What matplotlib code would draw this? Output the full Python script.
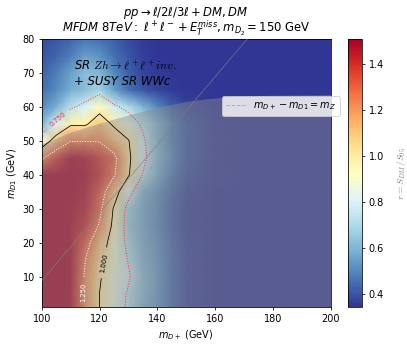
import numpy as np
import matplotlib
matplotlib.use("Agg")
import matplotlib.pyplot as plt
from matplotlib.lines import Line2D

# scan grid: m_D+ (x) and m_D1 (y), in GeV
m_dplus = [100, 105, 110, 115, 120, 125, 130, 135, 140, 145, 150, 160, 170, 180, 190, 200]
m_d1 = [1, 5, 10, 15, 20, 25, 30, 35, 40, 45, 50, 55, 60, 65, 70, 75, 80]

# r = S_DM / S_95, one row per m_D1 value
r_rows = [
    [1.51, 1.51, 1.50, 1.22, 0.999, 0.85, 0.72, 0.60, 0.53, 0.44, 0.37, 0.34, 0.34, 0.34, 0.34, 0.34],
    [1.51, 1.51, 1.50, 1.22, 0.999, 0.86, 0.73, 0.61, 0.53, 0.44, 0.37, 0.34, 0.34, 0.34, 0.34, 0.34],
    [1.51, 1.51, 1.50, 1.23, 1.02, 0.87, 0.77, 0.62, 0.54, 0.44, 0.37, 0.34, 0.34, 0.34, 0.34, 0.34],
    [1.51, 1.51, 1.50, 1.255, 1.06, 0.88, 0.74, 0.60, 0.53, 0.44, 0.37, 0.34, 0.34, 0.34, 0.34, 0.34],
    [1.51, 1.51, 1.50, 1.32, 1.12, 0.90, 0.70, 0.58, 0.52, 0.43, 0.37, 0.34, 0.34, 0.34, 0.34, 0.34],
    [1.51, 1.51, 1.50, 1.42, 1.23, 0.95, 0.66, 0.57, 0.50, 0.42, 0.36, 0.34, 0.34, 0.34, 0.34, 0.34],
    [1.51, 1.51, 1.50, 1.46, 1.30, 0.98, 0.68, 0.57, 0.50, 0.42, 0.36, 0.34, 0.34, 0.34, 0.34, 0.34],
    [1.51, 1.51, 1.51, 1.48, 1.35, 1.10, 0.82, 0.60, 0.52, 0.43, 0.37, 0.34, 0.34, 0.34, 0.34, 0.34],
    [1.51, 1.51, 1.51, 1.50, 1.42, 1.27, 1.02, 0.74, 0.58, 0.47, 0.39, 0.35, 0.34, 0.34, 0.34, 0.34],
    [1.22, 1.38, 1.50, 1.48, 1.40, 1.30, 1.04, 0.80, 0.62, 0.50, 0.40, 0.35, 0.34, 0.34, 0.34, 0.34],
    [0.85, 1.10, 1.24, 1.24, 1.24, 1.12, 1.01, 0.78, 0.60, 0.48, 0.40, 0.35, 0.34, 0.34, 0.34, 0.34],
    [0.60, 0.79, 0.97, 0.97, 1.10, 0.97, 0.85, 0.72, 0.60, 0.48, 0.40, 0.35, 0.34, 0.34, 0.34, 0.34],
    [0.50, 0.58, 0.72, 0.80, 0.93, 0.78, 0.70, 0.60, 0.50, 0.42, 0.37, 0.34, 0.34, 0.34, 0.34, 0.34],
    [0.45, 0.50, 0.58, 0.62, 0.68, 0.55, 0.45, 0.40, 0.37, 0.35, 0.34, 0.34, 0.34, 0.34, 0.34, 0.34],
    [0.42, 0.48, 0.55, 0.62, 0.60, 0.50, 0.42, 0.37, 0.35, 0.34, 0.34, 0.34, 0.34, 0.34, 0.34, 0.34],
    [0.40, 0.43, 0.48, 0.55, 0.52, 0.45, 0.40, 0.36, 0.34, 0.34, 0.34, 0.34, 0.34, 0.34, 0.34, 0.34],
    [0.38, 0.40, 0.43, 0.46, 0.45, 0.42, 0.38, 0.35, 0.34, 0.34, 0.34, 0.34, 0.34, 0.34, 0.34, 0.34],
]

# excluded region (grey band), upper edge in m_D1
excl_x = [100, 110, 120, 130, 140, 150, 160, 170, 180, 190, 200]
excl_y = [49, 52.5, 55.2, 57.6, 59.8, 61.6, 62.6, 63.1, 63.4, 63.5, 63.6]

m_z = 91.19
levels = [0.75, 1.0, 1.25]
label_pos = [(105.7, 56.0), (120.8, 14.2), (114.4, 5.4)]

X, Y = np.meshgrid(m_dplus, m_d1)
R = np.array(r_rows)

fig = plt.figure(figsize=(407 / 70, 346 / 70), dpi=70)
ax = fig.add_axes([0.1025, 0.1118, 0.710, 0.7761])
cax = fig.add_axes([0.855, 0.1118, 0.0344, 0.7761])

mesh = ax.pcolormesh(X, Y, R, cmap="RdYlBu_r", shading="gouraud", vmin=0.34, vmax=1.51)

ax.fill_between(excl_x, 0, excl_y, color="#8c8c8c", alpha=0.45, lw=0, zorder=2)

cs = ax.contour(X, Y, R, levels=levels, colors=["#ff3040", "k", "w"],
                linestyles=[":", "-", ":"], linewidths=[1.0, 0.8, 1.0], zorder=3)
ax.clabel(cs, fmt="%.3f", fontsize=7, inline=True, manual=label_pos)

xl = np.array([100, 200])
ax.plot(xl, xl - m_z, color="grey", alpha=0.6, lw=1, zorder=4)

ax.text(111.3, 69.9, "SR $Zh \\to \\ell^+\\ell^+ inv.$\n+ SUSY SR WWc", fontsize=12,
        fontstyle="italic", math_fontfamily="cm", va="center", ha="left", zorder=5)

handle = Line2D([], [], color="grey", alpha=0.5, ls="--", lw=1)
ax.legend([handle], ["$m_{D+} - m_{D1} = m_Z$"], loc="center",
          bbox_to_anchor=(0.828, 0.75), fontsize=10)

ax.set_xlim(100, 200)
ax.set_ylim(1, 80)
ax.set_xlabel("$m_{D+}$ (GeV)")
ax.set_ylabel("$m_{D1}$ (GeV)")
ax.set_title("$pp \\rightarrow \\ell/2\\ell/3\\ell + DM, DM$\n"
             "$MFDM\\ 8TeV:\\ \\ell^+\\ell^- + E_T^{miss}, m_{D_2} = 150$ GeV",
             fontsize=12, linespacing=0.8, pad=7)

cbar = fig.colorbar(mesh, cax=cax, ticks=[0.4, 0.6, 0.8, 1.0, 1.2, 1.4])
cbar.set_label("$r = S_{DM}/S_{95}$", math_fontfamily="cm", color="grey", fontsize=10)
cbar.ax.yaxis.set_label_coords(3.35, 0.5)

fig.savefig("out.png", dpi=70)
